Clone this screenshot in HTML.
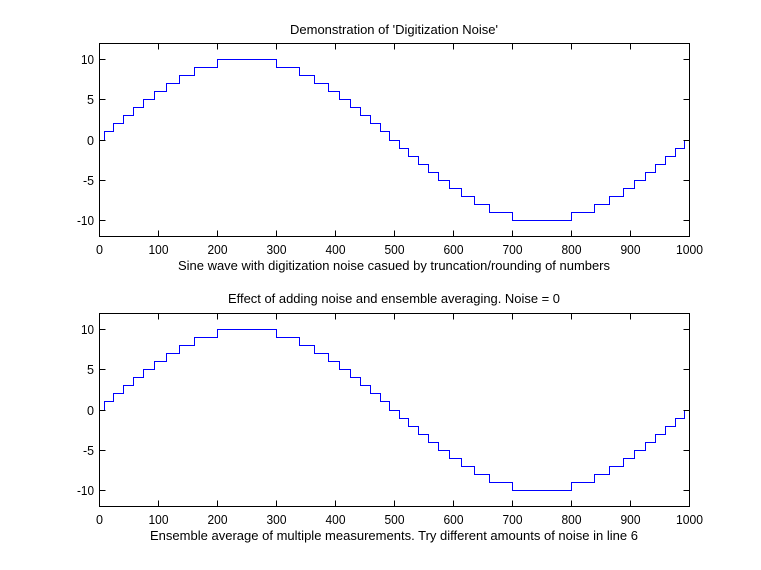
<!DOCTYPE html>
<html>
<head>
<meta charset="utf-8">
<style>
  html, body { margin:0; padding:0; background:#ffffff; }
  svg { display:block; }
  text { font-family: "Liberation Sans", Arial, sans-serif; font-size:13px; fill:#000; }
</style>
</head>
<body>
<svg width="761" height="570" viewBox="0 0 761 570" xmlns="http://www.w3.org/2000/svg">
  <rect x="0" y="0" width="761" height="570" fill="#ffffff"/>
  <defs>
    <path id="wave" fill="none" stroke="#0000ff" stroke-width="1" shape-rendering="crispEdges"
      d="M99.5 140.5 H104.5 V131.5 H113.5 V123.5 H123.5 V115.5 H133.5 V107.5 H143.5 V99.5 H154.5 V91.5 H166.5 V83.5 H179.5 V75.5 H194.5 V67.5 H217.5 V59.5 H276.5 V67.5 H299.5 V75.5 H314.5 V83.5 H328.5 V91.5 H339.5 V99.5 H350.5 V107.5 H360.5 V115.5 H370.5 V123.5 H380.5 V131.5 H389.5 V140.5 H399.5 V148.5 H408.5 V156.5 H418.5 V164.5 H428.5 V172.5 H438.5 V180.5 H449.5 V188.5 H461.5 V196.5 H474.5 V204.5 H489.5 V212.5 H512.5 V220.5 H571.5 V212.5 H594.5 V204.5 H609.5 V196.5 H623.5 V188.5 H634.5 V180.5 H645.5 V172.5 H655.5 V164.5 H665.5 V156.5 H675.5 V148.5 H684.5 V140.5 H689.5"/>
    <g id="axes" fill="none" stroke="#000" stroke-width="1" shape-rendering="crispEdges">
      <rect x="99.5" y="43.5" width="590" height="193"/>
      <path d="M158.5 236.5V230.5 M217.5 236.5V230.5 M276.5 236.5V230.5 M335.5 236.5V230.5 M394.5 236.5V230.5 M453.5 236.5V230.5 M512.5 236.5V230.5 M571.5 236.5V230.5 M630.5 236.5V230.5
               M158.5 43.5V49.5 M217.5 43.5V49.5 M276.5 43.5V49.5 M335.5 43.5V49.5 M394.5 43.5V49.5 M453.5 43.5V49.5 M512.5 43.5V49.5 M571.5 43.5V49.5 M630.5 43.5V49.5
               M99.5 59.5H105.5 M99.5 99.5H105.5 M99.5 140.5H105.5 M99.5 180.5H105.5 M99.5 220.5H105.5
               M689.5 59.5H683.5 M689.5 99.5H683.5 M689.5 140.5H683.5 M689.5 180.5H683.5 M689.5 220.5H683.5"/>
    </g>
  </defs>

  <!-- Top subplot -->
  <use href="#wave"/>
  <use href="#axes"/>
  <g text-anchor="end">
    <text x="94" y="64" textLength="13" lengthAdjust="spacingAndGlyphs">10</text>
    <text x="94" y="104" textLength="7" lengthAdjust="spacingAndGlyphs">5</text>
    <text x="94" y="145" textLength="7" lengthAdjust="spacingAndGlyphs">0</text>
    <text x="94" y="185" textLength="11" lengthAdjust="spacingAndGlyphs">-5</text>
    <text x="94" y="225" textLength="17" lengthAdjust="spacingAndGlyphs">-10</text>
  </g>
  <g text-anchor="middle">
    <text x="99.5" y="254" textLength="7" lengthAdjust="spacingAndGlyphs">0</text>
    <text x="158.5" y="254" textLength="20" lengthAdjust="spacingAndGlyphs">100</text>
    <text x="217.5" y="254" textLength="20" lengthAdjust="spacingAndGlyphs">200</text>
    <text x="276.5" y="254" textLength="20" lengthAdjust="spacingAndGlyphs">300</text>
    <text x="335.5" y="254" textLength="20" lengthAdjust="spacingAndGlyphs">400</text>
    <text x="394.5" y="254" textLength="20" lengthAdjust="spacingAndGlyphs">500</text>
    <text x="453.5" y="254" textLength="20" lengthAdjust="spacingAndGlyphs">600</text>
    <text x="512.5" y="254" textLength="20" lengthAdjust="spacingAndGlyphs">700</text>
    <text x="571.5" y="254" textLength="20" lengthAdjust="spacingAndGlyphs">800</text>
    <text x="630.5" y="254" textLength="20" lengthAdjust="spacingAndGlyphs">900</text>
    <text x="689.5" y="254" textLength="27" lengthAdjust="spacingAndGlyphs">1000</text>
    <text x="394" y="34" textLength="208" lengthAdjust="spacingAndGlyphs">Demonstration of 'Digitization Noise'</text>
    <text x="394" y="270" textLength="432" lengthAdjust="spacingAndGlyphs">Sine wave with digitization noise casued by truncation/rounding of numbers</text>
  </g>

  <!-- Bottom subplot -->
  <g transform="translate(0,270)">
    <use href="#wave"/>
    <use href="#axes"/>
    <g text-anchor="end">
      <text x="94" y="64" textLength="13" lengthAdjust="spacingAndGlyphs">10</text>
      <text x="94" y="104" textLength="7" lengthAdjust="spacingAndGlyphs">5</text>
      <text x="94" y="145" textLength="7" lengthAdjust="spacingAndGlyphs">0</text>
      <text x="94" y="185" textLength="11" lengthAdjust="spacingAndGlyphs">-5</text>
      <text x="94" y="225" textLength="17" lengthAdjust="spacingAndGlyphs">-10</text>
    </g>
    <g text-anchor="middle">
      <text x="99.5" y="254" textLength="7" lengthAdjust="spacingAndGlyphs">0</text>
      <text x="158.5" y="254" textLength="20" lengthAdjust="spacingAndGlyphs">100</text>
      <text x="217.5" y="254" textLength="20" lengthAdjust="spacingAndGlyphs">200</text>
      <text x="276.5" y="254" textLength="20" lengthAdjust="spacingAndGlyphs">300</text>
      <text x="335.5" y="254" textLength="20" lengthAdjust="spacingAndGlyphs">400</text>
      <text x="394.5" y="254" textLength="20" lengthAdjust="spacingAndGlyphs">500</text>
      <text x="453.5" y="254" textLength="20" lengthAdjust="spacingAndGlyphs">600</text>
      <text x="512.5" y="254" textLength="20" lengthAdjust="spacingAndGlyphs">700</text>
      <text x="571.5" y="254" textLength="20" lengthAdjust="spacingAndGlyphs">800</text>
      <text x="630.5" y="254" textLength="20" lengthAdjust="spacingAndGlyphs">900</text>
      <text x="689.5" y="254" textLength="27" lengthAdjust="spacingAndGlyphs">1000</text>
      <text x="394" y="33" textLength="332" lengthAdjust="spacingAndGlyphs">Effect of adding noise and ensemble averaging. Noise = 0</text>
      <text x="394" y="270" textLength="488" lengthAdjust="spacingAndGlyphs">Ensemble average of multiple measurements. Try different amounts of noise in line 6</text>
    </g>
  </g>
</svg>
</body>
</html>
